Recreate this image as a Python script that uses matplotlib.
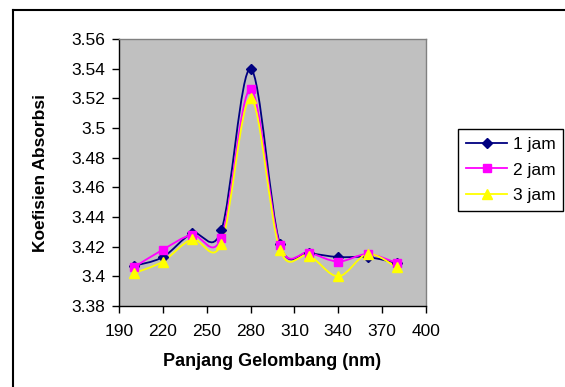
import numpy as np
import matplotlib.pyplot as plt
from matplotlib.path import Path
from matplotlib.patches import PathPatch
from matplotlib.lines import Line2D

plt.rcParams['font.family'] = ['Liberation Sans', 'DejaVu Sans']

# data
wavelength = [200, 220, 240, 260, 280, 300, 320, 340, 360, 380]
jam1 = [3.407, 3.413, 3.429, 3.431, 3.540, 3.422, 3.416, 3.413, 3.413, 3.409]
jam2 = [3.406, 3.418, 3.428, 3.426, 3.526, 3.421, 3.416, 3.410, 3.415, 3.409]
jam3 = [3.402, 3.410, 3.425, 3.422, 3.520, 3.418, 3.414, 3.400, 3.415, 3.406]
labels = ['1 jam', '2 jam', '3 jam']

x_ticks = [190, 220, 250, 280, 310, 340, 370, 400]
y_ticks = [3.38, 3.40, 3.42, 3.44, 3.46, 3.48, 3.50, 3.52, 3.54, 3.56]
y_ticklabels = ['3.38', '3.4', '3.42', '3.44', '3.46', '3.48', '3.5', '3.52', '3.54', '3.56']


def smooth_path(xs, ys):
    # Excel-like smoothed line: cubic bezier segments through the points
    pts = np.column_stack([xs, ys]).astype(float)
    n = len(pts)
    verts = [pts[0]]
    codes = [Path.MOVETO]
    for i in range(n - 1):
        p0 = pts[i - 1] if i > 0 else pts[i]
        p1 = pts[i]
        p2 = pts[i + 1]
        p3 = pts[i + 2] if i + 2 < n else pts[i + 1]
        c1 = p1 + (p2 - p0) / 6.0
        c2 = p2 - (p3 - p1) / 6.0
        verts += [c1, c2, p2]
        codes += [Path.CURVE4] * 3
    return Path(verts, codes)


fig = plt.figure(figsize=(5.65, 3.87), dpi=100)
ax = fig.add_axes([119 / 565, 1 - 306 / 387, 307 / 565, 267 / 387])
ax.set_facecolor('#C0C0C0')

series = [
    (jam1, '#000080', 'D', 5.5),
    (jam2, '#FF00FF', 's', 6),
    (jam3, '#FFFF00', '^', 7),
]
handles = []
for (vals, col, mk, ms), lab in zip(series, labels):
    ax.add_patch(PathPatch(smooth_path(wavelength, vals), facecolor='none',
                           edgecolor=col, lw=1.3, zorder=3))
    ax.plot(wavelength, vals, linestyle='none', marker=mk, markersize=ms,
            color=col, zorder=4, clip_on=False)
    handles.append(Line2D([], [], color=col, lw=1.3, marker=mk, markersize=ms,
                          label=lab))

ax.set_xlim(190, 400)
ax.set_ylim(3.38, 3.56)
ax.set_xticks(x_ticks)
ax.set_yticks(y_ticks)
ax.set_yticklabels(y_ticklabels)
ax.tick_params(direction='out', length=5, width=1, labelsize=12.5)
ax.tick_params(axis='y', pad=5)
ax.tick_params(axis='x', pad=8)

for s in ['top', 'right']:
    ax.spines[s].set_color('#808080')
    ax.spines[s].set_linewidth(1)
for s in ['left', 'bottom']:
    ax.spines[s].set_color('black')
    ax.spines[s].set_linewidth(1)

ax.set_xlabel('Panjang Gelombang (nm)', fontsize=13, fontweight='bold')
ax.set_ylabel('Koefisien Absorbsi', fontsize=12.5, fontweight='bold')
ax.xaxis.set_label_coords(0.5, -0.175)
ax.yaxis.set_label_coords(-0.23, 0.5)

leg = fig.legend(handles=handles, loc='upper left',
                 bbox_to_anchor=(458 / 565, 1 - 129 / 387), borderaxespad=0,
                 fontsize=12.5, handlelength=2.4, handletextpad=0.3,
                 labelspacing=0.6, borderpad=0.45, fancybox=False,
                 framealpha=1, edgecolor='black')
leg.get_frame().set_linewidth(1)

# outer chart frame
fig.add_artist(Line2D([13 / 565, 1], [1 - 10 / 387, 1 - 10 / 387],
                      transform=fig.transFigure, color='black', lw=1.5))
fig.add_artist(Line2D([13 / 565, 13 / 565], [0, 1 - 10 / 387],
                      transform=fig.transFigure, color='black', lw=1.5))

fig.savefig('out.png', dpi=100)
